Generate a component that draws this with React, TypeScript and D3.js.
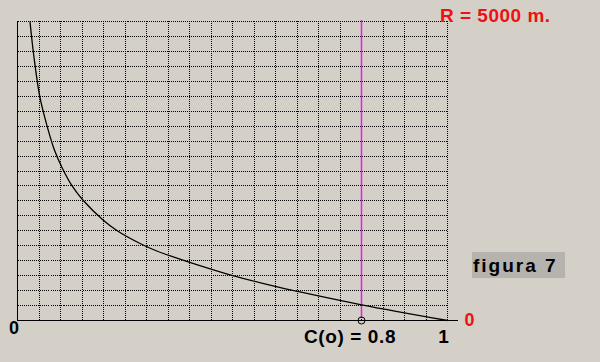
import React from "react";
import * as d3 from "d3";

// Curve: C(o) (x) vs relative value (y, grid units 0..20)
const cValues = [0.029, 0.038, 0.052, 0.069, 0.085, 0.104, 0.127, 0.152, 0.199, 0.231, 0.285, 0.324, 0.424, 0.494, 0.587, 0.657, 0.8, 1.0];
const yValues = [20.0, 17.69, 14.95, 12.98, 11.47, 10.2, 9.0, 8.06, 6.72, 6.02, 5.15, 4.65, 3.67, 3.06, 2.37, 1.91, 1.05, 0];

const markerC = [0.8];
const titleText = ["R = 5000 m."];
const xLabels = ["0", "C(o) = 0.8", "1"];
const yZeroLabel = ["0"];
const figLabel = ["figura 7"];

const W = 600;
const H = 362;

export default function App() {
  const x = d3.scaleLinear().domain([0, 1]).range([17.5, 447.5]);
  const y = d3.scaleLinear().domain([0, 20]).range([320.5, 21.5]);
  const px = (v: number) => Math.floor(x(v)) + 0.5;
  const py = (v: number) => Math.floor(y(v)) + 0.5;

  const xTicks = x.ticks(20).filter((t) => t > 0);
  const yTicks = y.ticks(20).filter((t) => t > 0);

  const pts: [number, number][] = cValues.map((c, i) => [c, yValues[i]]);
  const line = d3
    .line<[number, number]>()
    .x((d) => x(d[0]))
    .y((d) => y(d[1]))
    .curve(d3.curveCatmullRom.alpha(0.5));

  const font = "'Liberation Sans', Arial, sans-serif";
  const mc = markerC[0];

  return (
    <svg
      width={W}
      height={H}
      style={{ position: "absolute", left: 0, top: 0, display: "block" }}
    >
      <rect x={0} y={0} width={W} height={H} fill="#d4d0c8" />
      {/* dotted grid */}
      <g stroke="#000" strokeWidth={1} strokeDasharray="1,1" shapeRendering="crispEdges">
        {xTicks.map((t) => (
          <line key={"vx" + t} x1={px(t)} x2={px(t)} y1={py(20) - 0.5} y2={py(0)} />
        ))}
        {yTicks.map((t) => (
          <line key={"hy" + t} x1={px(0)} x2={px(1)} y1={py(t)} y2={py(t)} />
        ))}
      </g>
      {/* axes */}
      <g stroke="#000" strokeWidth={1} shapeRendering="crispEdges">
        <line x1={px(0)} x2={px(0)} y1={py(20) - 0.5} y2={py(0)} />
        <line x1={px(0)} x2={457.5} y1={py(0)} y2={py(0)} />
      </g>
      {/* marker line */}
      <line x1={px(mc)} x2={px(mc)} y1={20} y2={py(0) - 3} stroke="#f414f4" strokeWidth={1.5} />
      {/* curve */}
      <path d={line(pts) || ""} fill="none" stroke="#000" strokeWidth={1.3} />
      <circle cx={px(mc)} cy={py(0)} r={3.5} fill="none" stroke="#000" strokeWidth={1} />
      {/* texts */}
      <text x={440} y={22} fill="#ee1111" fontFamily={font} fontWeight="bold" fontSize={19} letterSpacing={0.5}>
        {titleText[0]}
      </text>
      <text x={14} y={334} textAnchor="middle" fill="#000" fontFamily={font} fontWeight="bold" fontSize={18}>
        {xLabels[0]}
      </text>
      <text x={304} y={343} fill="#000" fontFamily={font} fontWeight="bold" fontSize={19} letterSpacing={0.6}>
        {xLabels[1]}
      </text>
      <text x={443.5} y={343} textAnchor="middle" fill="#000" fontFamily={font} fontWeight="bold" fontSize={19}>
        {xLabels[2]}
      </text>
      <text x={469.5} y={326} textAnchor="middle" fill="#ee1111" fontFamily={font} fontWeight="bold" fontSize={18}>
        {yZeroLabel[0]}
      </text>
      <rect x={472} y={252} width={93} height={26} fill="#b6b2ae" />
      <text x={473} y={272} fill="#000" fontFamily={font} fontWeight="bold" fontSize={19} letterSpacing={2}>
        {figLabel[0]}
      </text>
    </svg>
  );
}
